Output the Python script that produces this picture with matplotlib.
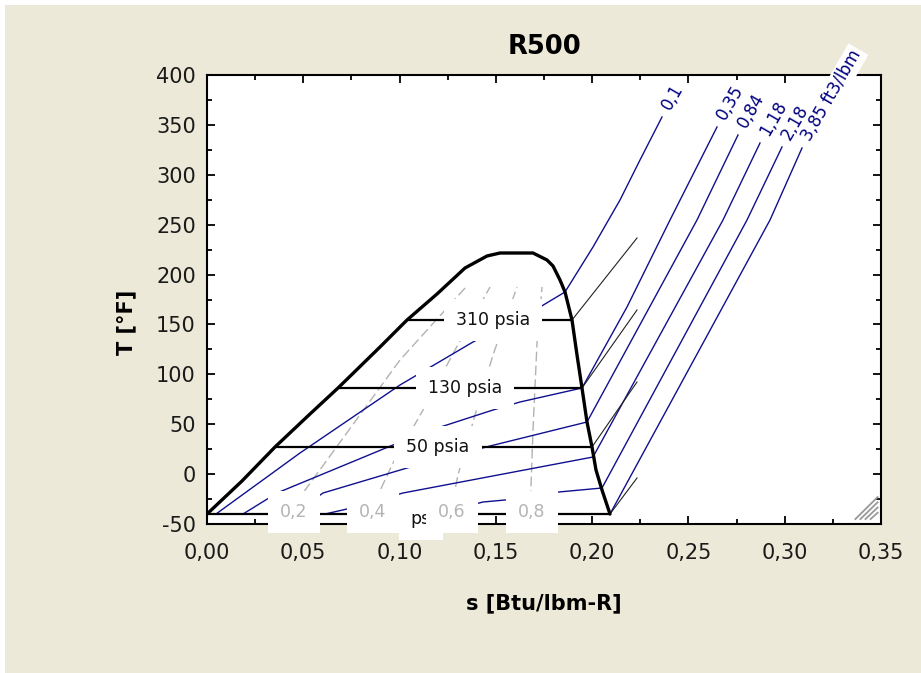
import matplotlib
matplotlib.use("Agg")
import matplotlib.pyplot as plt
from matplotlib.ticker import FixedLocator, FixedFormatter, MultipleLocator
from matplotlib.patches import Rectangle
from matplotlib.lines import Line2D

# ---------------- data ----------------
title = "R500"
x_label = "s [Btu/lbm-R]"
y_label = "T [°F]"

x_ticks = [0.00, 0.05, 0.10, 0.15, 0.20, 0.25, 0.30, 0.35]
x_tick_labels = ["0,00", "0,05", "0,10", "0,15", "0,20", "0,25", "0,30", "0,35"]
y_ticks = [-50, 0, 50, 100, 150, 200, 250, 300, 350, 400]
y_tick_labels = ["-50", "0", "50", "100", "150", "200", "250", "300", "350", "400"]

# saturation dome (s, T)
dome_s = [0.0, 0.01818, 0.03531, 0.05349, 0.06803, 0.08984, 0.10386, 0.11944, 0.13398,
          0.14540, 0.15215, 0.16929, 0.17656, 0.17967, 0.18331, 0.18591, 0.18954,
          0.19214, 0.19473, 0.19733, 0.19993, 0.20200, 0.20512, 0.20927]
dome_T = [-40.0, -6.90, 27.17, 60.25, 86.30, 127.39, 154.45, 180.51, 206.57,
          218.60, 221.60, 221.60, 214.59, 208.58, 194.54, 182.52, 154.45,
          119.38, 86.30, 52.23, 27.17, 4.12, -15.92, -40.0]

# isobars
p_labels = ["310 psia", "130 psia", "50 psia", "ps"]
p_Tsat = [154.45, 86.30, 27.17, -40.0]
p_sliq = [0.10386, 0.06803, 0.03531, 0.0]
p_svap = [0.18954, 0.19473, 0.19993, 0.20927]
p_send = [0.22330, 0.22330, 0.22330, 0.22330]
p_Tend = [236.64, 164.48, 92.32, -3.90]
p_label_s = [0.1485, 0.1340, 0.1200, 0.1111]
p_label_T = [154.45, 86.30, 27.17, -45.0]

# isochores (specific volume lines)
v_labels = ["0,1", "0,35", "0,84", "1,18", "2,18", "3,85 ft3/lbm"]
v01_s = [0.00467, 0.04829, 0.10022, 0.13813, 0.17292, 0.18591, 0.20045, 0.21447, 0.22485, 0.23628]
v01_T = [-40.0, 21.16, 89.31, 132.41, 167.48, 182.52, 227.62, 274.72, 314.81, 357.91]
v035_s = [0.01869, 0.03635, 0.09659, 0.11165, 0.14852, 0.16254, 0.19473, 0.21810, 0.24043, 0.26484]
v035_T = [-40.0, -18.93, 29.18, 41.20, 64.25, 72.27, 86.30, 167.48, 254.68, 347.89]
v084_s = [0.04466, 0.06024, 0.10386, 0.14696, 0.19733, 0.25445, 0.27574]
v084_T = [-40.0, -18.93, 6.12, 28.17, 52.23, 254.68, 339.87]
v118_s = [0.06128, 0.07270, 0.10178, 0.20045, 0.26795, 0.28717]
v118_T = [-40.0, -34.97, -18.93, 17.15, 254.68, 331.85]
v218_s = [0.11892, 0.14332, 0.15475, 0.17708, 0.20512, 0.28042, 0.29859]
v218_T = [-40.0, -27.95, -25.95, -18.93, -13.92, 254.68, 327.84]
v385_s = [0.20927, 0.29236, 0.30898]
v385_T = [-40.0, 254.68, 326.84]

# quality lines
q_labels = ["0,2", "0,4", "0,6", "0,8"]
q02_s = [0.04206, 0.04985, 0.10022, 0.13450]
q02_T = [-40.0, -18.93, 114.37, 187.53]
q04_s = [0.08413, 0.09659, 0.11217, 0.12878, 0.14696]
q04_T = [-40.0, 11.14, 64.25, 124.39, 187.53]
q06_s = [0.12619, 0.13034, 0.13917, 0.14852, 0.16098]
q06_T = [-40.0, -0.89, 59.24, 119.38, 187.53]
q08_s = [0.16773, 0.16929, 0.17137, 0.17344, 0.17396]
q08_T = [-40.0, 44.21, 131.40, 174.50, 187.53]
q_label_s = [0.04518, 0.08620, 0.12723, 0.16877]
q_label_T = -38.0

# ---------------- figure ----------------
W, H = 921, 673
fig = plt.figure(figsize=(W / 100, H / 100), dpi=100)
fig.patch.set_facecolor("#ECE9D8")
fig.add_artist(Rectangle((0, 1 - 5 / H), 1, 5 / H, transform=fig.transFigure,
                         facecolor="white", edgecolor="none"))
fig.add_artist(Rectangle((0, 0), 5 / W, 1, transform=fig.transFigure,
                         facecolor="white", edgecolor="none"))

ax = fig.add_axes([207 / W, 149 / H, 674 / W, 449 / H])
ax.set_facecolor("white")
ax.set_xlim(0, 0.35)
ax.set_ylim(-50, 400)

for sp in ax.spines.values():
    sp.set_linewidth(1.5)
    sp.set_color("black")

ax.xaxis.set_major_locator(FixedLocator(x_ticks))
ax.xaxis.set_major_formatter(FixedFormatter(x_tick_labels))
ax.yaxis.set_major_locator(FixedLocator(y_ticks))
ax.yaxis.set_major_formatter(FixedFormatter(y_tick_labels))
ax.xaxis.set_minor_locator(MultipleLocator(0.025))
ax.yaxis.set_minor_locator(MultipleLocator(25))
ax.tick_params(which="both", direction="in", top=True, right=True,
               labeltop=False, labelright=False, width=1.3, colors="black")
ax.tick_params(which="major", length=6)
ax.tick_params(which="minor", length=3.5)
ax.tick_params(axis="x", which="major", pad=13.5, labelsize=15, labelcolor="#1a1a1a")
ax.tick_params(axis="y", which="major", pad=8, labelsize=15, labelcolor="#1a1a1a")

# quality lines
for s, T in [(q02_s, q02_T), (q04_s, q04_T), (q06_s, q06_T), (q08_s, q08_T)]:
    ax.plot(s, T, color="#b2b2b2", lw=1.0, ls=(0, (7, 3)), zorder=1.8)

# isochores
blue = "#10108f"
iso = [(v01_s, v01_T), (v035_s, v035_T), (v084_s, v084_T),
       (v118_s, v118_T), (v218_s, v218_T), (v385_s, v385_T)]
for (s, T), lbl in zip(iso, v_labels):
    ax.plot(s, T, color=blue, lw=1.0, zorder=2)
    ax.annotate(lbl, xy=(s[-1], T[-1]), xytext=(3, 6), textcoords="offset points",
                rotation=60, rotation_mode="anchor", ha="left", va="center",
                fontsize=12, color="#000080", annotation_clip=False, clip_on=False,
                bbox=dict(boxstyle="square,pad=0.15", fc="white", ec="none"),
                zorder=7)

# isobars
for i in range(len(p_labels)):
    ax.plot([p_sliq[i], p_svap[i]], [p_Tsat[i], p_Tsat[i]], color="black",
            lw=1.6, zorder=2.5, solid_capstyle="butt")
    ax.plot([p_svap[i], p_send[i]], [p_Tsat[i], p_Tend[i]], color="#222222",
            lw=0.8, zorder=2.5)
    ax.text(p_label_s[i], p_label_T[i], p_labels[i], ha="center", va="center",
            fontsize=12.5, color="#111111", zorder=6, clip_on=False,
            bbox=dict(boxstyle="square,pad=0.7", fc="white", ec="none"))

# saturation dome
ax.plot(dome_s, dome_T, color="black", lw=2.4, zorder=3,
        solid_joinstyle="round", solid_capstyle="round")

# quality labels
for s, lbl in zip(q_label_s, q_labels):
    ax.text(s, q_label_T, lbl, ha="center", va="center", fontsize=12.5,
            color="#b4b4b4", zorder=6.5, clip_on=False,
            bbox=dict(boxstyle="square,pad=0.7", fc="white", ec="none"))

# resize grip decoration (bottom right)
for k in range(4):
    off = k * 0.0075
    ax.add_line(Line2D([0.962 + off, 0.995], [0.011, 0.060 - off * 1.55],
                       transform=ax.transAxes, color="#999999", lw=1.3, zorder=4))

# labels and title
ax.set_xlabel(x_label, fontsize=15, fontweight="bold")
ax.xaxis.set_label_coords(0.5, -0.155)
ax.xaxis.label.set_va("top")
ax.set_ylabel(y_label, fontsize=15, fontweight="bold")
ax.yaxis.set_label_coords(-0.105, 0.45)
fig.text(544 / W, 1 - 47 / H, title, ha="center", va="center",
         fontsize=18.5, fontweight="bold")

fig.savefig("out.png", dpi=100, facecolor=fig.get_facecolor())
